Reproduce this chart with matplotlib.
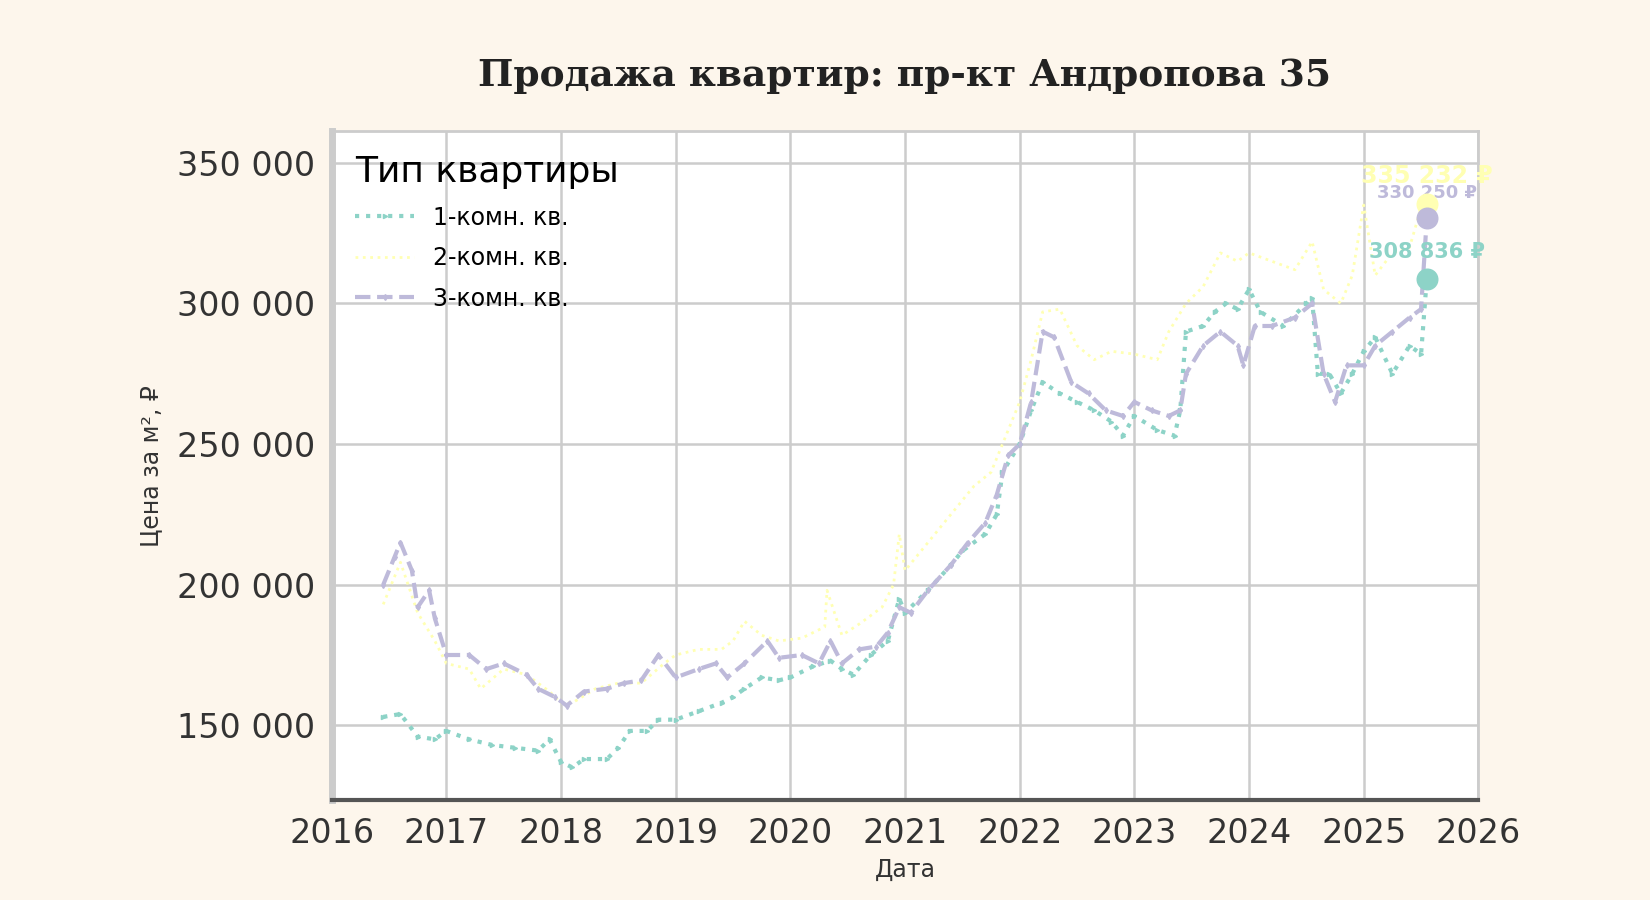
import matplotlib
matplotlib.use("Agg")
import matplotlib.pyplot as plt
import numpy as np

t1 = [2016.45,2016.6,2016.75,2016.9,2017.0,2017.2,2017.4,2017.6,2017.8,2017.9,2018.0,2018.1,2018.2,2018.4,2018.5,2018.6,2018.75,2018.85,2019.0,2019.2,2019.4,2019.5,2019.6,2019.75,2019.9,2020.0,2020.2,2020.35,2020.45,2020.55,2020.7,2020.85,2020.95,2021.0,2021.2,2021.4,2021.5,2021.7,2021.8,2021.85,2022.0,2022.1,2022.2,2022.35,2022.5,2022.65,2022.8,2022.9,2023.0,2023.2,2023.35,2023.4,2023.45,2023.6,2023.7,2023.8,2023.9,2024.0,2024.1,2024.3,2024.5,2024.55,2024.6,2024.7,2024.8,2024.9,2025.0,2025.1,2025.25,2025.4,2025.5,2025.55]
v1 = [153000,154000,146000,145000,148000,145000,143000,142000,141000,145000,137000,135000,138000,138000,142000,148000,148000,152000,152000,155000,158000,160000,163000,167000,166000,167000,171000,173000,170000,168000,175000,180000,195000,190000,198000,207000,212000,218000,225000,240000,250000,262000,272000,268000,265000,262000,258000,253000,260000,255000,253000,262000,290000,292000,297000,300000,298000,305000,297000,292000,300000,302000,275000,275000,268000,275000,283000,288000,275000,285000,282000,308836]

t2 = [2016.45,2016.6,2016.75,2016.9,2017.0,2017.2,2017.3,2017.5,2017.7,2017.9,2018.0,2018.1,2018.3,2018.5,2018.7,2018.9,2019.0,2019.2,2019.4,2019.5,2019.6,2019.75,2019.9,2020.1,2020.3,2020.32,2020.45,2020.6,2020.8,2020.9,2020.95,2021.0,2021.2,2021.4,2021.6,2021.75,2021.85,2022.0,2022.1,2022.2,2022.35,2022.5,2022.65,2022.8,2023.0,2023.2,2023.3,2023.45,2023.6,2023.75,2023.9,2024.0,2024.2,2024.4,2024.55,2024.65,2024.8,2024.9,2025.0,2025.1,2025.25,2025.4,2025.5,2025.55]
v2 = [193000,208000,190000,180000,172000,170000,163000,170000,168000,162000,158000,158000,163000,165000,165000,172000,175000,177000,177000,180000,187000,182000,180000,181000,185000,198000,182000,186000,192000,200000,218000,205000,215000,225000,235000,240000,250000,265000,280000,297000,298000,285000,280000,283000,282000,280000,290000,300000,306000,318000,315000,318000,315000,312000,322000,305000,300000,310000,335000,310000,318000,320000,334000,335232]

t3 = [2016.45,2016.55,2016.6,2016.7,2016.75,2016.85,2016.9,2017.0,2017.2,2017.35,2017.5,2017.7,2017.8,2017.95,2018.05,2018.2,2018.4,2018.55,2018.7,2018.85,2019.0,2019.2,2019.35,2019.45,2019.6,2019.8,2019.9,2020.1,2020.25,2020.35,2020.45,2020.6,2020.75,2020.85,2020.95,2021.05,2021.2,2021.4,2021.55,2021.7,2021.8,2021.9,2022.0,2022.1,2022.2,2022.3,2022.45,2022.6,2022.75,2022.9,2023.0,2023.15,2023.3,2023.4,2023.45,2023.6,2023.75,2023.9,2023.95,2024.05,2024.2,2024.4,2024.55,2024.65,2024.75,2024.85,2025.0,2025.1,2025.25,2025.4,2025.5,2025.55]
v3 = [200000,210000,215000,205000,192000,198000,188000,175000,175000,170000,172000,168000,163000,160000,157000,162000,163000,165000,166000,175000,167000,170000,172000,167000,172000,180000,174000,175000,172000,180000,172000,177000,178000,183000,192000,190000,198000,207000,215000,222000,232000,246000,250000,265000,290000,288000,272000,268000,262000,260000,265000,262000,260000,262000,275000,285000,290000,285000,278000,292000,292000,295000,300000,275000,265000,278000,278000,285000,290000,295000,298000,330250]

labels = ["1-комн. кв.", "2-комн. кв.", "3-комн. кв."]
colors = ["#8dd3c7", "#ffffb3", "#bebada"]
last_labels = ["308 836 ₽", "335 232 ₽", "330 250 ₽"]

bg = "#fdf6ec"
fig = plt.figure(figsize=(16.5, 9), dpi=100, facecolor=bg)
ax = fig.add_axes([0.201, 0.111, 0.695, 0.743])
ax.set_facecolor("white")

styles = [dict(ls=":", lw=3, marker=">", ms=3),
          dict(ls=":", lw=2, marker=None),
          dict(ls="--", lw=3, marker="d", ms=3)]
for t, v, c, lab, st in zip([t1, t2, t3], [v1, v2, v3], colors, labels, styles):
    ax.plot(t, v, color=c, label=lab, **st)
for t, v, c, lab, fs in zip([t1, t2, t3], [v1, v2, v3], colors, last_labels, [15, 17, 13]):
    ax.scatter([t[-1]], [v[-1]], s=220, color=c, zorder=5)
    ax.annotate(lab, (t[-1], v[-1]), xytext=(0, 12), textcoords="offset points",
                ha="center", va="bottom", color=c, fontsize=fs, fontweight="bold")

ax.set_xlim(2016, 2026)
ax.set_ylim(123400, 361200)
ax.set_xticks(range(2016, 2027))
ax.set_yticks([150000, 200000, 250000, 300000, 350000])
ax.set_yticklabels(["150 000", "200 000", "250 000", "300 000", "350 000"])
ax.tick_params(labelsize=24, colors="#333333", length=0, pad=12)
ax.grid(True, color="#cccccc", lw=1.8)
for s in ["top", "right"]:
    ax.spines[s].set_color("#cccccc"); ax.spines[s].set_linewidth(2)
ax.spines["left"].set_color("#cccccc"); ax.spines["left"].set_linewidth(5)
ax.spines["bottom"].set_color("#555555"); ax.spines["bottom"].set_linewidth(3)
ax.set_xlabel("Дата", fontsize=17, color="#333333", labelpad=6)
ax.set_ylabel("Цена за м², ₽", fontsize=17, color="#333333", labelpad=10)
leg = ax.legend(title="Тип квартиры", loc="upper left", frameon=False,
                fontsize=17, title_fontsize=26, handlelength=2.5, labelspacing=0.7,
                borderaxespad=0.6)
leg._legend_box.align = "left"
fig.text(0.548, 0.905, "Продажа квартир: пр-кт Андропова 35", ha="center",
         fontsize=27, fontweight="bold", family="DejaVu Serif", color="#222222")
fig.savefig("out.png", facecolor=bg)
